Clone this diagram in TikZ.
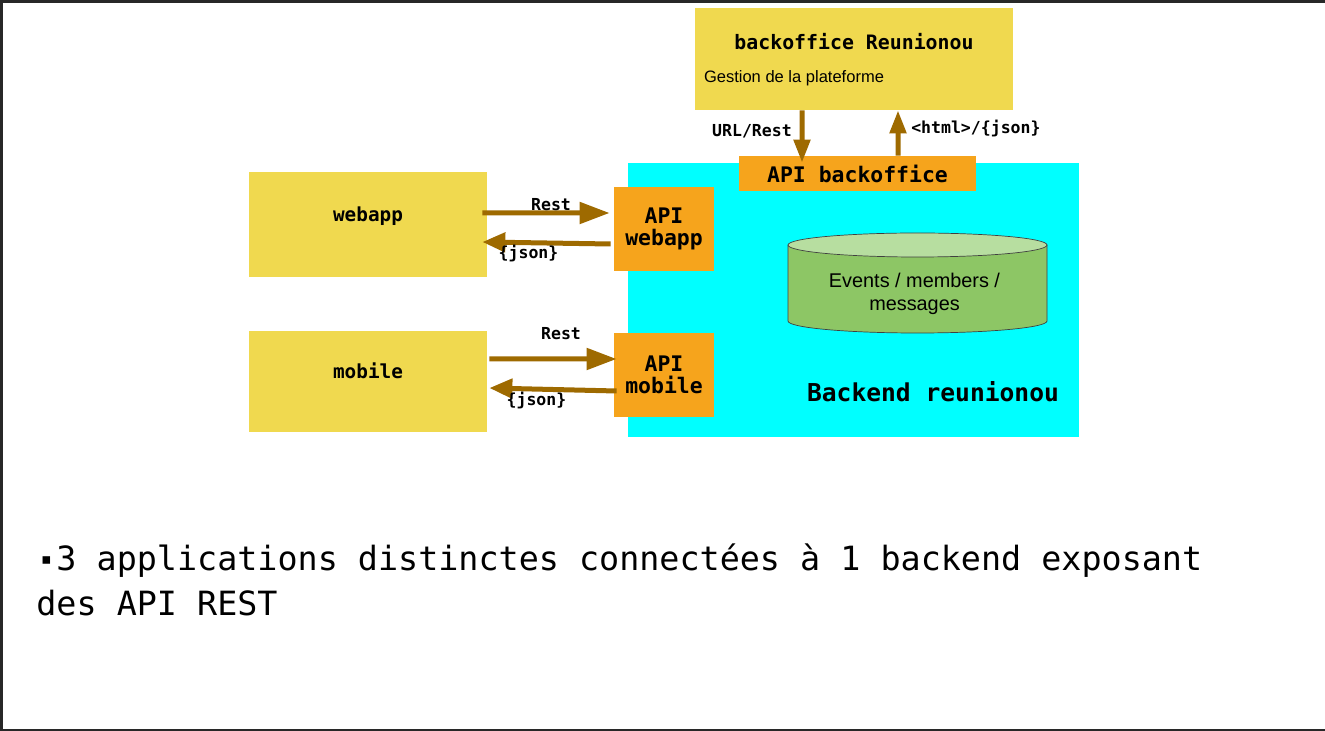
\documentclass[tikz,border=0pt]{standalone}
\usepackage{fontspec}
\setsansfont{Liberation Sans}
\setmonofont{DejaVu Sans Mono}
\usepackage{tikz}
\usetikzlibrary{arrows.meta}
\usetikzlibrary{calc}
\usetikzlibrary{positioning}
\definecolor{appyellow}{RGB}{240,217,79}
\definecolor{apiorange}{RGB}{246,164,28}
\definecolor{backcyan}{RGB}{0,255,255}
\definecolor{dbgreen}{RGB}{141,198,101}
\definecolor{dbtop}{RGB}{183,222,160}
\definecolor{arrowbrown}{RGB}{158,106,0}
\definecolor{framegray}{RGB}{40,40,40}
\newcommand{\appwidth}{4.76cm}
\tikzstyle{app}=[
  fill=appyellow,
  minimum width=\appwidth,
  text height=0.3cm,
  text depth=0.41cm,
  font=\ttfamily\bfseries\fontsize{11}{13}\selectfont
]
\tikzstyle{api}=[
  fill=apiorange,
  minimum width=2cm,
  minimum height=1.68cm,
  align=center,
  font=\ttfamily\bfseries\fontsize{12.2}{12.8}\selectfont
]
\tikzstyle{op}=[
  draw=arrowbrown,
  line width=0.1cm,
  -{Triangle[length=0.6cm,width=0.42cm]}
]
\tikzstyle{reply}=[
  op,
  -{Triangle[length=0.46cm,width=0.38cm]}
]
\tikzstyle{msg}=[
  inner sep=1pt,
  font=\ttfamily\bfseries\fontsize{9.4}{11}\selectfont
]

\begin{document}
\begin{tikzpicture}
  \useasboundingbox (0,0) rectangle (26.5,-14.62);
  \fill[framegray] (0,0) rectangle (26.5,-0.06);
  \fill[framegray] (0,0) rectangle (0.06,-14.62);
  \fill[framegray] (0,-14.57) rectangle (26.5,-14.62);

  % backend and its apis
  \node[fill=backcyan, minimum width=9.02cm, minimum height=5.48cm] (backend) at (17.07,-6.0) {};
  \node[font=\ttfamily\bfseries\fontsize{14}{16}\selectfont] (backtitle) at ($(backend) + (1.59,-1.84)$) {Backend reunionou};

  \node[api, minimum width=4.74cm, minimum height=0.7cm] (apibo)  at (17.15,-3.47) {API backoffice};
  \node[api                                          ] (apiweb) at (13.28,-4.58) {API\\webapp};
  \node[api                                          ] (apimob) at (13.28,-7.5)  {API\\mobile};

  % database
  \fill[dbgreen] (15.76,-4.9) -- (15.76,-6.42) arc (180:360:2.59 and 0.24) -- (20.94,-4.9) -- cycle;
  \draw[black!75, thin] (15.76,-4.9) -- (15.76,-6.42) arc (180:360:2.59 and 0.24) -- (20.94,-4.9);
  \filldraw[fill=dbtop, draw=black!75, thin] (18.35,-4.9) ellipse (2.59 and 0.24);
  \node[align=center, font=\sffamily\fontsize{11.3}{13.2}\selectfont] (db) at (18.29,-5.87) {Events / members /\\messages};

  % applications
  \node[app, minimum width=6.36cm, minimum height=2.04cm] (bo) at (17.08,-1.18) {};
  \node[font=\ttfamily\bfseries\fontsize{11.3}{13}\selectfont] (botitle) at ($(bo) + (0,0.34)$) {backoffice Reunionou};
  \node[anchor=west, inner sep=0pt, font=\sffamily\fontsize{9.4}{11}\selectfont] (bodesc) at ($(bo.west) + (0.18,-0.38)$) {Gestion de la plateforme};

  \node[app, minimum height=2.1cm ] (webapp) at (7.36,-4.49) {webapp};
  \node[app, minimum height=2.02cm] (mobile) at (7.36,-7.63) {mobile};

  % calls
  \draw[op, -{Triangle[length=0.46cm,width=0.32cm]}] ($(bo.south) + (-1.04,0)$) -- ($(apibo.north) + (-1.11,-0.14)$)
    node[midway, left, msg, xshift=-0.12cm, yshift=0.1cm] {URL/Rest};
  \draw[op, -{Triangle[length=0.46cm,width=0.32cm]}] ($(apibo.north) + (0.81,0)$) -- ($(bo.south) + (0.88,0)$)
    node[midway, right, msg, xshift=0.18cm, yshift=0.08cm] {<html>/\{json\}};

  \draw[op]    ($(webapp.east) + (-0.1,0.23)$)  -- ($(apiweb.west) + (-0.08,0.32)$)
    node[midway, above, msg, xshift=0.1cm, yshift=-0.03cm] {Rest};
  \draw[reply] ($(apiweb.west) + (-0.06,-0.30)$) -- ($(webapp.east) + (-0.1,-0.35)$)
    node[pos=0.64, below, msg, inner sep=0pt] {\{json\}};

  \draw[op]    ($(mobile.east) + (0.04,0.45)$)  -- ($(apimob.west) + (0.06,0.32)$)
    node[midway, above, msg, xshift=0.16cm, yshift=0.3cm] {Rest};
  \draw[reply] ($(apimob.west) + (0.06,-0.32)$) -- ($(mobile.east) + (0.04,-0.13)$)
    node[pos=0.63, below, msg, inner sep=0pt] {\{json\}};

  % summary
  \node[anchor=base west, inner sep=0pt, align=left, font=\ttfamily\fontsize{19}{25.6}\selectfont] (summary) at (0.72,-12.3)
    {\makebox[0.602em][c]{\fontsize{11}{11}\selectfont\raisebox{2.6pt}{▪}}3 applications distinctes connectées à 1 backend exposant\\des API REST};
\end{tikzpicture}
\end{document}
